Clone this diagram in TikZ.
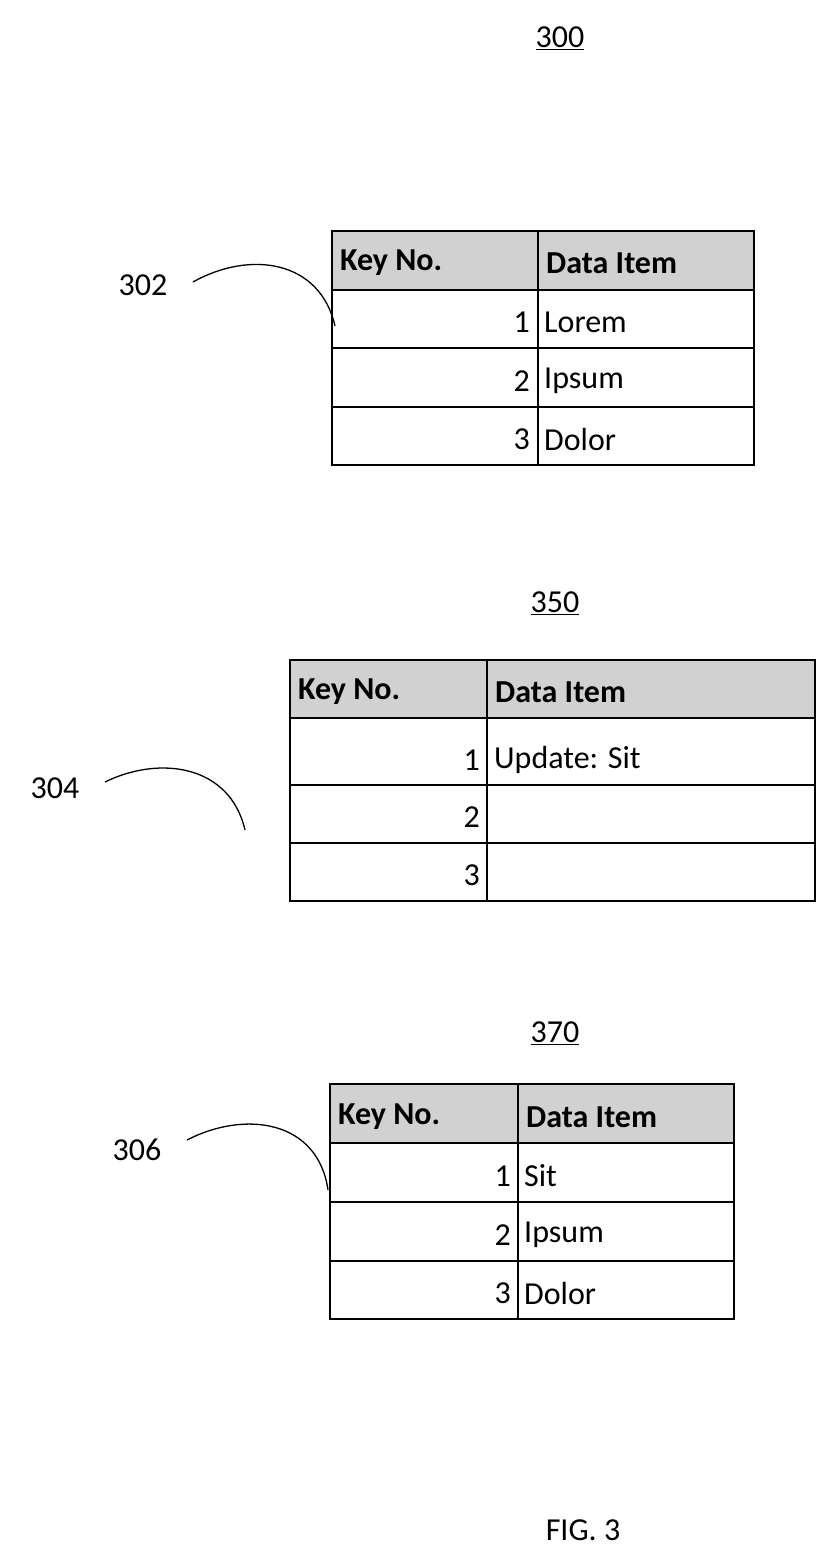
\documentclass[tikz,border=0pt]{standalone}
\usepackage{fontspec}
\setmainfont{Carlito}
\begin{document}
\begin{tikzpicture}[x=1pt,y=-1pt,
  grid/.style={line width=2.6pt},
  hdr/.style={fill=black!18},
  txt/.style={font=\fontsize{32}{36}\selectfont, inner sep=0pt},
  bold/.style={txt, font=\fontsize{32}{36}\selectfont\bfseries},
  lead/.style={line width=1.3pt}]
\useasboundingbox (0,0) rectangle (838,1567);
% generic table: \tbl{x0}{xs}{x1}{y0}{y1}{y2}{y3}{y4}
\newcommand{\mytbl}[8]{%
  \fill[hdr] (#1,#4) rectangle (#3,#5);
  \draw[grid] (#1,#4) rectangle (#3,#8);
  \draw[grid] (#2,#4) -- (#2,#8);
  \draw[grid] (#1,#5) -- (#3,#5);
  \draw[grid] (#1,#6) -- (#3,#6);
  \draw[grid] (#1,#7) -- (#3,#7);
}
% Table 300
\node[txt] (t300) at (560,38) {\underline{300}};
\mytbl{332}{538}{754}{231}{290}{348}{407}{465}
\node[bold,anchor=west] (a1) at (340,263) {Key No.};
\node[bold,anchor=west] (a2) at (546,263) {Data Item};
\node[txt,anchor=east] (a3) at (530,322) {1};
\node[txt,anchor=west] (a4) at (544,322) {Lorem};
\node[txt,anchor=east] (a5) at (530,381) {2};
\node[txt,anchor=west] (a6) at (544,381) {Ipsum};
\node[txt,anchor=east] (a7) at (530,439) {3};
\node[txt,anchor=west] (a8) at (544,439) {Dolor};
\node[txt] (l302) at (143,285) {302};
\coordinate (c302) at (335,326);
\draw[lead] (193,282) .. controls (250,250) and (320,260) .. (c302);
% Table 350
\node[txt] (t350) at (555,603) {\underline{350}};
\mytbl{290}{487}{815}{660}{718}{785}{843}{901}
\node[bold,anchor=west] (b1) at (298,692) {Key No.};
\node[bold,anchor=west] (b2) at (495,692) {Data Item};
\node[txt,anchor=east] (b3) at (480,760) {1};
\node[txt,anchor=west] (b4) at (494,760) {Update: Sit};
\node[txt,anchor=east] (b5) at (480,817) {2};
\node[txt,anchor=east] (b7) at (480,875) {3};
\node[txt] (l304) at (55,788) {304};
\coordinate (c304) at (245,830);
\draw[lead] (105,782) .. controls (160,755) and (230,765) .. (c304);
% Table 370
\node[txt] (t370) at (555,1033) {\underline{370}};
\mytbl{330}{518}{734}{1084}{1143}{1202}{1261}{1319}
\node[bold,anchor=west] (d1) at (338,1117) {Key No.};
\node[bold,anchor=west] (d2) at (526,1117) {Data Item};
\node[txt,anchor=east] (d3) at (511,1176) {1};
\node[txt,anchor=west] (d4) at (524,1176) {Sit};
\node[txt,anchor=east] (d5) at (511,1235) {2};
\node[txt,anchor=west] (d6) at (524,1235) {Ipsum};
\node[txt,anchor=east] (d7) at (511,1293) {3};
\node[txt,anchor=west] (d8) at (524,1293) {Dolor};
\node[txt] (l306) at (137,1150) {306};
\coordinate (c306) at (328,1190);
\draw[lead] (187,1140) .. controls (245,1110) and (318,1120) .. (c306);
\node[txt] (fig) at (583,1530) {FIG. 3};
\end{tikzpicture}
\end{document}
